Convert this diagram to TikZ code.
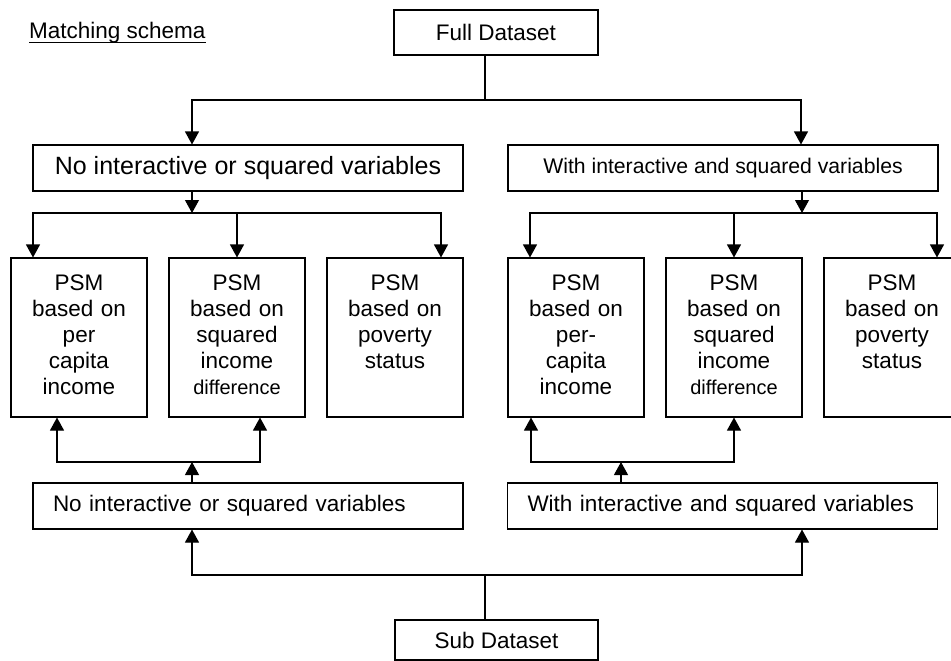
\documentclass[tikz,border=0pt]{standalone}
\usepackage{fontspec}
\setmainfont{Liberation Sans}
\usetikzlibrary{arrows.meta}
\begin{document}
\begin{tikzpicture}[x=1pt,y=-1pt,
 box/.style={draw,line width=1.1pt,inner sep=0pt,align=center},
 arr/.style={line width=1.1pt,-{Triangle[width=14pt,length=13pt]}},
 conn/.style={line width=1.1pt},
 f/.style={font=\fontsize{22.5}{26}\selectfont},
 psm/.style={box,f,text width=130pt,text height=32pt,text depth=127pt,minimum width=136pt,minimum height=159pt},
 wide/.style={box,minimum width=430pt,minimum height=46pt},
 lower/.style={wide,f,text width=390pt,align=left}
]
\useasboundingbox (0,0) rectangle (951,661);
\clip (0,0) rectangle (951,661);

% title
\node[anchor=base west,inner sep=0pt,f] (title) at (29,39) {Matching schema};
\draw[line width=1.4pt] ([yshift=-3.5pt]title.base west) -- ([yshift=-3.5pt]title.base east);

% boxes
\node[box,f,minimum width=204pt,minimum height=45pt] (full) at (496,32.5) {Full Dataset};
\node[wide,font=\fontsize{25}{30}\selectfont] (topL) at (248,168) {No interactive or squared variables};
\node[wide,font=\fontsize{21.2}{25}\selectfont] (topR) at (723,168) {With interactive and squared variables};

\node[psm] (p1) at (79,337.5) {PSM\\based on\\per\\capita\\income};
\node[psm] (p2) at (237,337.5) {PSM\\based on\\squared\\income\\{\fontsize{20}{23}\selectfont difference}};
\node[psm] (p3) at (395,337.5) {PSM\\based on\\poverty\\status};
\node[psm] (p4) at (576,337.5) {PSM\\based on\\per-\\capita\\income};
\node[psm] (p5) at (734,337.5) {PSM\\based on\\squared\\income\\{\fontsize{20}{23}\selectfont difference}};
\node[psm] (p6) at (892,337.5) {PSM\\based on\\poverty\\status};

\node[lower] (botL) at (248,506) {No interactive or squared variables};
\node[lower] (botR) at (722.5,506) {With interactive and squared variables};
\node[box,f,minimum width=203pt,minimum height=40pt] (sub) at (496.5,640) {Sub Dataset};

% junction coordinates
\coordinate (fj) at (485,100);
\coordinate (fjL) at (192,100);
\coordinate (fjR) at (801,100);

\coordinate (lj) at (192,213);
\coordinate (lA) at (33,213);
\coordinate (lB) at (237,213);
\coordinate (lC) at (441,213);

\coordinate (rj) at (802,213);
\coordinate (rA) at (530,213);
\coordinate (rB) at (734,213);
\coordinate (rC) at (937,213);

\coordinate (bj) at (192,462);
\coordinate (bA) at (57,462);
\coordinate (bB) at (260,462);

\coordinate (cj) at (621,462);
\coordinate (cA) at (531,462);
\coordinate (cB) at (734,462);

\coordinate (sj) at (485,575);
\coordinate (sL) at (192,575);
\coordinate (sR) at (802,575);

% full dataset split
\draw[conn] (full.south -| fj) -- (fj);
\draw[arr] (fj) -| (fjL |- topL.north);
\draw[arr] (fj) -| (fjR |- topR.north);

% left top group
\draw[arr] (topL.south -| lj) -- (lj);
\draw[arr] (lj) -| (lA |- p1.north);
\draw[arr] (lj) -| (lC |- p3.north);
\draw[arr] (lB) -- (lB |- p2.north);

% right top group
\draw[arr] (topR.south -| rj) -- (rj);
\draw[arr] (rj) -| (rA |- p4.north);
\draw[arr] (rj) -| (rC |- p6.north);
\draw[arr] (rB) -- (rB |- p5.north);

% lower brackets
\draw[arr] (bj) -| (bA |- p1.south);
\draw[arr] (bj) -| (bB |- p2.south);
\draw[arr] (botL.north -| bj) -- (bj);

\draw[arr] (cj) -| (cA |- p4.south);
\draw[arr] (cj) -| (cB |- p5.south);
\draw[arr] (botR.north -| cj) -- (cj);

% sub dataset split
\draw[conn] (sub.north -| sj) -- (sj);
\draw[arr] (sj) -| (sL |- botL.south);
\draw[arr] (sj) -| (sR |- botR.south);
\end{tikzpicture}
\end{document}
